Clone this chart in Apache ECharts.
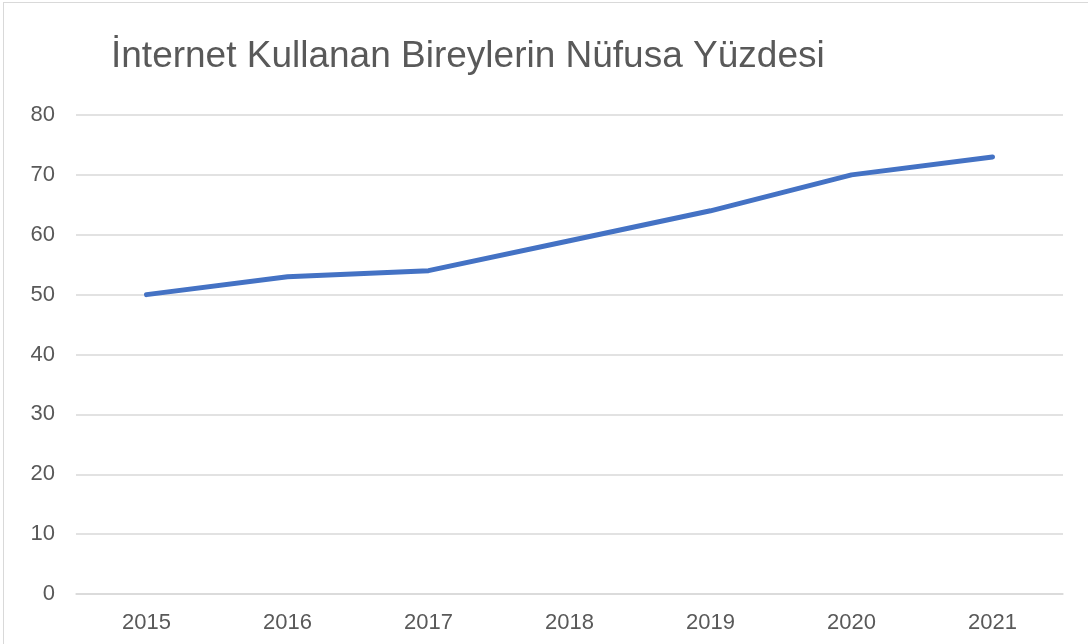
<!DOCTYPE html>
<html>
<head>
<meta charset="utf-8">
<script src="https://cdn.jsdelivr.net/npm/echarts@6/dist/echarts.min.js"></script>
<style>
    html, body { margin: 0; padding: 0; background: #fff; }
    #frame { position: absolute; left: 3px; top: 2px; width: 1085px; height: 642px;
             border-top: 1px solid #d9d9d9; border-left: 1px solid #d9d9d9; box-sizing: border-box; }
    #chart { position: absolute; left: 0; top: 0; width: 1088px; height: 644px; }
</style>
</head>
<body>
<div id="frame"></div>
<div id="chart"></div>
<script>
// yillar ve yuzde degerleri
var years = ['2015', '2016', '2017', '2018', '2019', '2020', '2021'];
var percents = [50, 53, 54, 59, 64, 70, 73];
var titleText = 'İnternet Kullanan Bireylerin Nüfusa Yüzdesi';

var myChart = echarts.init(document.getElementById('chart'));
var option = {
    animation: false,
    title: {
        text: titleText,
        left: 106,
        top: 33,
        textStyle: {
            fontFamily: 'Liberation Sans, Arial, sans-serif',
            fontSize: 37,
            fontWeight: 'normal',
            color: '#595959'
        }
    },
    grid: {
        left: 76,
        right: 25,
        top: 115,
        bottom: 50
    },
    xAxis: {
        type: 'category',
        data: years,
        boundaryGap: true,
        axisLine: { show: true, lineStyle: { color: '#d9d9d9', width: 1.5 } },
        axisTick: { show: false },
        axisLabel: {
            margin: 18,
            fontFamily: 'Liberation Sans, Arial, sans-serif',
            fontSize: 22,
            color: '#595959'
        }
    },
    yAxis: {
        type: 'value',
        min: 0,
        max: 80,
        interval: 10,
        axisLine: { show: false },
        axisTick: { show: false },
        splitLine: { lineStyle: { color: '#d9d9d9', width: 1.5 } },
        axisLabel: {
            margin: 21,
            fontFamily: 'Liberation Sans, Arial, sans-serif',
            fontSize: 22,
            color: '#595959'
        }
    },
    series: [{
        type: 'line',
        data: percents,
        showSymbol: false,
        symbol: 'none',
        lineStyle: { color: '#4472c4', width: 5, cap: 'round', join: 'round' }
    }]
};
myChart.setOption(option);
</script>
</body>
</html>
